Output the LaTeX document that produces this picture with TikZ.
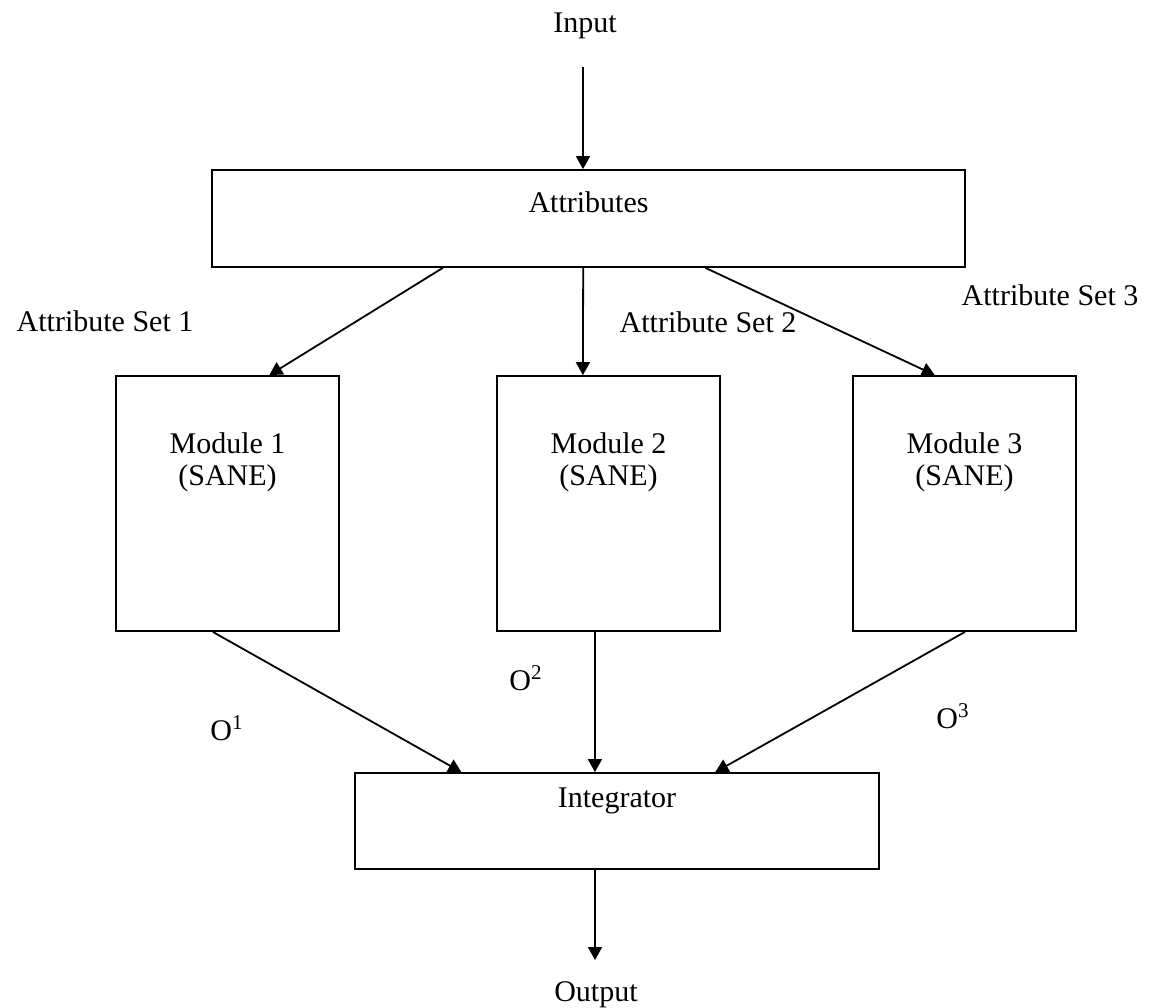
\documentclass[tikz,border=0pt]{standalone}
\usepackage{fontspec}
\setmainfont{Liberation Serif}
\usetikzlibrary{arrows.meta,positioning,calc}

\tikzset{
  block/.style={draw,line width=0.9pt,inner sep=0pt,align=center,minimum width=#1},
  flow/.style={line width=0.9pt,-{Triangle[length=6.5pt,width=7pt]}},
  lbl/.style={inner sep=0pt,anchor=base}
}

\begin{document}
\begin{tikzpicture}[x=0.5pt,y=-0.5pt,font=\fontsize{15pt}{16pt}\selectfont]
  \useasboundingbox (0,0) rectangle (1153,1008);
  % input and output
  \node[lbl] (input) at (585,32) {Input};
  \node[lbl] (output) at (596,1001) {Output};
  % boxes
  \node[block=376.5pt,text height=21pt,text depth=27.5pt] (attr) at (588.5,218.5) {Attributes};
  \node[block=111.5pt,text height=54.5pt,text depth=73pt] (mod1) at (227.5,503.5) {Module 1\\(SANE)};
  \node[block=111.5pt,text height=54.5pt,text depth=73pt] (mod2) at (608.5,503.5) {Module 2\\(SANE)};
  \node[block=111.5pt,text height=54.5pt,text depth=73pt] (mod3) at (964.5,503.5) {Module 3\\(SANE)};
  \node[block=262pt,text height=17pt,text depth=31pt] (integ) at (617,821) {Integrator};
  % attribute sets
  \node[lbl] (set1) at (105,331) {Attribute Set 1};
  \node[lbl] (set2) at (708,332) {Attribute Set 2};
  \node[lbl] (set3) at (1050,305) {Attribute Set 3};
  % module outputs
  \node[lbl,anchor=base west] (out1) at (210,740) {O\textsuperscript{1}};
  \node[lbl,anchor=base west] (out2) at (509,690) {O\textsuperscript{2}};
  \node[lbl,anchor=base west] (out3) at (936,728) {O\textsuperscript{3}};
  % connectors
  \coordinate (inend) at (583,67);
  \draw[flow] (inend) -- (inend |- attr.north);
  \draw[flow] ($(attr.south west)!0.307!(attr.south east)$) -- ($(mod1.north west)!0.686!(mod1.north east)$);
  \draw[flow] ($(attr.south west)!0.493!(attr.south east)$) -- ($(mod2.north west)!0.386!(mod2.north east)$);
  \draw[flow] ($(attr.south west)!0.655!(attr.south east)$) -- ($(mod3.north west)!0.368!(mod3.north east)$);
  \draw[flow] ($(mod1.south west)!0.435!(mod1.south east)$) -- ($(integ.north west)!0.204!(integ.north east)$);
  \draw[flow] ($(mod2.south west)!0.44!(mod2.south east)$) -- ($(integ.north west)!0.458!(integ.north east)$);
  \draw[flow] ($(mod3.south west)!0.502!(mod3.south east)$) -- ($(integ.north west)!0.687!(integ.north east)$);
  \coordinate (outend) at (595,960);
  \draw[flow] (integ.south -| outend) -- (outend);
\end{tikzpicture}
\end{document}
